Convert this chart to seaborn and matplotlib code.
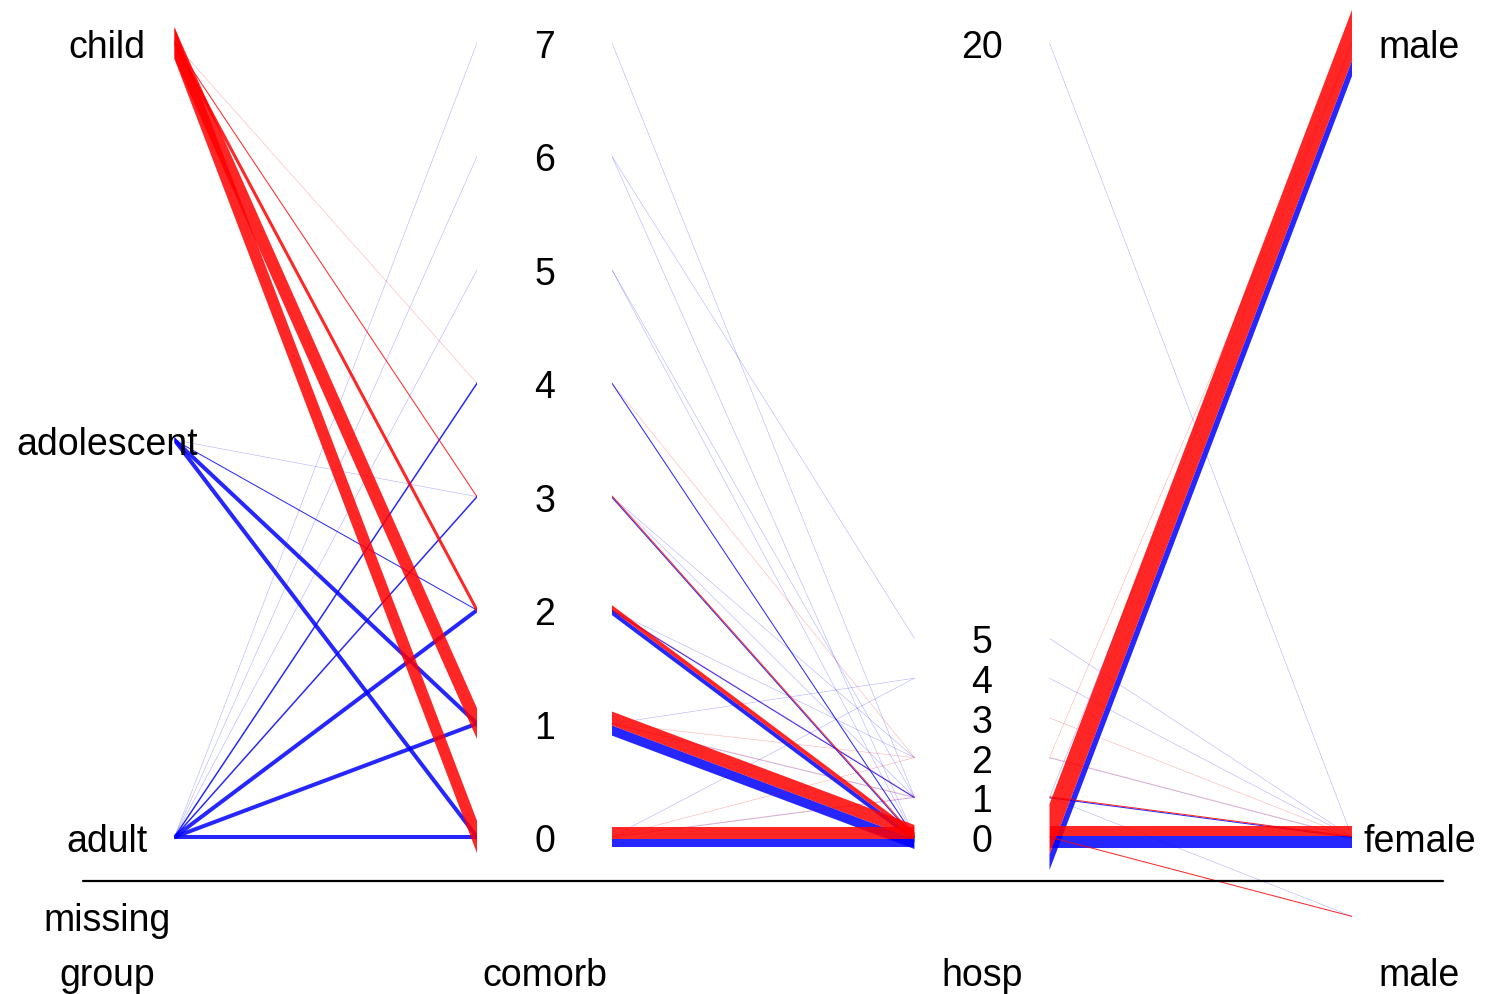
import numpy as np
import matplotlib
matplotlib.use("Agg")
import matplotlib.pyplot as plt
import seaborn as sns

sns.set_theme(style="white")
plt.rcParams["font.family"] = ["Liberation Sans", "DejaVu Sans"]

# axes of the parallel plot
variables = ["group", "comorb", "hosp", "male"]
group_levels = ["adult", "adolescent", "child"]
comorb_ticks = [0, 1, 2, 3, 4, 5, 6, 7]
hosp_ticks = [0, 1, 2, 3, 4, 5, 20]
sex_levels = ["female", "male"]

# group -> comorb (counts per class, red / blue)
g_from = ["child", "child", "child", "child", "child",
          "adolescent", "adolescent", "adolescent", "adolescent",
          "adult", "adult", "adult", "adult", "adult", "adult", "adult", "adult"]
g_to = [0, 1, 2, 3, 4, 0, 1, 2, 3, 0, 1, 2, 3, 4, 5, 6, 7]
g_red = [23, 25, 6, 2, 1, 0, 0, 0, 0, 0, 0, 0, 0, 0, 0, 0, 0]
g_blue = [0, 0, 0, 0, 0, 8, 8, 2, 1, 7, 8, 8, 3, 3, 1, 1, 1]

# comorb -> hosp
c_from = [0, 1, 2, 3, 4, 0, 1, 2, 3, 0, 0, 1, 1, 4, 5, 5, 6, 7, 7, 3, 2, 6]
c_to = [0, 0, 0, 0, 0, 1, 1, 1, 1, 2, 4, 2, 4, 2, 1, 0, 0, 20, 1, 2, 2, 5]
c_red = [24, 26, 8, 2, 0, 1, 1, 1, 0, 1, 0, 1, 0, 1, 0, 0, 0, 0, 0, 0, 0, 0]
c_blue = [16, 19, 8, 2, 2, 1, 1, 2, 1, 0, 1, 0, 1, 0, 1, 1, 1, 1, 1, 1, 1, 1]

# hosp -> male
h_from = [0, 0, 0, 1, 1, 1, 2, 2, 3, 4, 5, 20]
h_to = ["male", "female", "missing", "female", "male", "missing",
        "female", "male", "female", "female", "female", "female"]
h_red = [36, 20, 2, 2, 0, 0, 1, 1, 1, 0, 0, 0]
h_blue = [11, 24, 0, 2, 1, 1, 1, 0, 0, 1, 1, 1]

RED, BLUE = sns.color_palette(["#FF0000", "#0000FF"])


def pos_group(v):
    return {"adult": 0.0, "adolescent": 0.5, "child": 1.0, "missing": -0.1}[v]


def pos_comorb(v):
    return v / 7


def pos_hosp(v):
    return v / 20


def pos_sex(v):
    return {"female": 0.0, "male": 1.0, "missing": -0.1}[v]


fig = plt.figure(figsize=(14.99, 9.95), dpi=100)
ax = fig.add_axes([0, 0, 1, 1])
ax.set_xlim(-107 / 437.5, (1499 - 107) / 437.5)
ax.set_ylim(-(995 - 838) / 794, 838 / 794)
ax.axis("off")

gap = 67.5 / 437.5
px_per_case = 0.5


def band(x0, y0, x1, y1, width, shift, color, n):
    # thick line cut vertically at both ends, width/shift in pixels
    p0, p1 = ax.transData.transform([(x0, y0), (x1, y1)])
    d = p1 - p0
    c = abs(d[0]) / np.hypot(*d)
    half = width / 2 / c
    sh = shift / c
    poly = [(p0[0], p0[1] + sh + half), (p1[0], p1[1] + sh + half),
            (p1[0], p1[1] + sh - half), (p0[0], p0[1] + sh - half)]
    poly = ax.transData.inverted().transform(poly)
    alpha = 0.35 if n == 1 else 0.85
    ax.fill(poly[:, 0], poly[:, 1], color=color, alpha=alpha, lw=0)


segments = [
    (g_from, g_to, g_red, g_blue, pos_group, pos_comorb),
    (c_from, c_to, c_red, c_blue, pos_comorb, pos_hosp),
    (h_from, h_to, h_red, h_blue, pos_hosp, pos_sex),
]

for i, (fr, to, red, blue, fs, ts) in enumerate(segments):
    x0, x1 = i + gap, i + 1 - gap
    for layer in ("blue", "red"):
        for a, b, nr, nb in zip(fr, to, red, blue):
            wr, wb = nr * px_per_case, nb * px_per_case
            if layer == "blue" and nb > 0:
                band(x0, fs(a), x1, ts(b), wb, -wr / 2, BLUE, nb)
            if layer == "red" and nr > 0:
                band(x0, fs(a), x1, ts(b), wr, wb / 2, RED, nr)

fs_lab = 27
dy = -4 / 794  # small nudge so labels sit on their level like the original


def label(x, y, s):
    ax.text(x, y + dy, s, ha="center", va="center", fontsize=fs_lab, color="black")


for lev in group_levels:
    label(0, pos_group(lev), lev)
label(0, pos_group("missing"), "missing")
for t in comorb_ticks:
    label(1, pos_comorb(t), str(t))
for t in hosp_ticks:
    label(2, pos_hosp(t), str(t))
for lev in sex_levels:
    label(3, pos_sex(lev), lev)

ax.plot([(83 - 107) / 437.5, (1443 - 107) / 437.5], [-44 / 794, -44 / 794],
        color="black", lw=1.6)
for i, name in enumerate(variables):
    label(i, -134 / 794, name)

fig.savefig("out.png", dpi=100)
